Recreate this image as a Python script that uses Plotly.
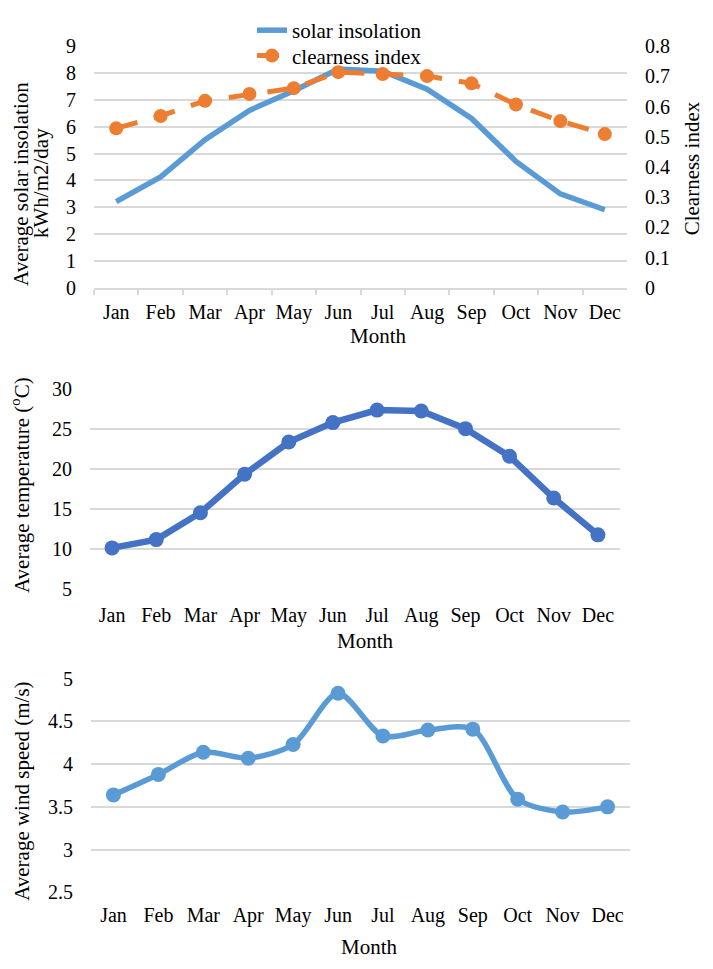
import plotly.graph_objects as go

months = ["Jan", "Feb", "Mar", "Apr", "May", "Jun", "Jul", "Aug", "Sep", "Oct", "Nov", "Dec"]
solar_insolation = [3.21, 4.13, 5.52, 6.61, 7.34, 8.15, 8.07, 7.40, 6.31, 4.71, 3.50, 2.91]
clearness_index = [0.528, 0.569, 0.619, 0.642, 0.661, 0.714, 0.708, 0.701, 0.677, 0.607, 0.552, 0.509]
temperature = [10.16, 11.20, 14.55, 19.35, 23.37, 25.80, 27.36, 27.24, 25.04, 21.59, 16.38, 11.79]
wind_speed = [3.64, 3.88, 4.14, 4.07, 4.23, 4.83, 4.33, 4.40, 4.41, 3.59, 3.44, 3.50]

W, H = 713, 969
FONT = "Liberation Serif"
GRID = "#d9d9d9"


def px(x):
    return x / W


def py(y):
    return 1 - y / H


tickfont = dict(family=FONT, size=20, color="#000000")

fig = go.Figure()
fig.add_trace(go.Scatter(x=months, y=solar_insolation, xaxis="x", yaxis="y", mode="lines",
                         name="solar insolation", legend="legend",
                         line=dict(color="#5B9BD5", width=5.5)))
fig.add_trace(go.Scatter(x=months, y=clearness_index, xaxis="x", yaxis="y2", mode="lines+markers",
                         name="clearness index", legend="legend2",
                         line=dict(color="#ED7D31", width=5, dash="22px,17px"),
                         marker=dict(size=14, color="#ED7D31")))
fig.add_trace(go.Scatter(x=months, y=temperature, xaxis="x2", yaxis="y3", mode="lines+markers",
                         showlegend=False,
                         line=dict(color="#4472C4", width=6.5),
                         marker=dict(size=15, color="#4472C4")))
fig.add_trace(go.Scatter(x=months, y=wind_speed, xaxis="x3", yaxis="y4", mode="lines+markers",
                         showlegend=False,
                         line=dict(color="#5B9BD5", width=5.5, shape="spline", smoothing=0.8),
                         marker=dict(size=15, color="#5B9BD5")))

common_x = dict(type="category", range=[-0.5, 11.5], showgrid=False, zeroline=False,
                tickangle=0, tickfont=tickfont, fixedrange=True)
common_y = dict(showgrid=True, gridcolor=GRID, gridwidth=1.5, zeroline=False,
                tickfont=tickfont, ticks="", fixedrange=True)

legend_common = dict(xanchor="left", yanchor="middle", bgcolor="rgba(0,0,0,0)",
                     font=dict(family=FONT, size=21, color="#000000"))

fig.update_layout(
    width=W, height=H,
    margin=dict(l=0, r=0, t=0, b=0),
    paper_bgcolor="white", plot_bgcolor="white",
    font=dict(family=FONT, color="#000000"),
    xaxis=dict(domain=[px(94), px(627)], anchor="y", showline=True, linecolor=GRID, linewidth=1.5,
               ticks="outside", tickson="boundaries", ticklen=5, tickcolor=GRID, tickwidth=1.5,
               ticklabelstandoff=5, **common_x),
    yaxis=dict(domain=[py(283.3), py(36)], anchor="x", range=[0, 9], dtick=1,
               ticklabelstandoff=17, **common_y),
    yaxis2=dict(overlaying="y", side="right", anchor="x", range=[0, 0.8], dtick=0.1,
                showgrid=False, zeroline=False, ticks="", tickfont=tickfont,
                ticklabelstandoff=17, fixedrange=True),
    xaxis2=dict(domain=[px(90), px(620)], anchor="y3", showline=False, ticks="",
                ticklabelstandoff=12, **common_x),
    yaxis3=dict(domain=[py(591.7), py(386.7)], anchor="x2", range=[5, 30], dtick=5,
                ticklabelstandoff=17, **common_y),
    xaxis3=dict(domain=[px(91), px(630)], anchor="y4", showline=False, ticks="",
                ticklabelstandoff=9, **common_x),
    yaxis4=dict(domain=[py(901.7), py(683.3)], anchor="x3", range=[2.5, 5], dtick=0.5,
                ticklabelstandoff=17, **common_y),
    legend=dict(x=px(252), y=py(20), **legend_common),
    legend2=dict(x=px(252), y=py(46), **legend_common),
)

titlefont = dict(family=FONT, size=21, color="#000000")
annotations = [
    dict(text="Average solar insolation", x=px(21), y=py(177), textangle=-90),
    dict(text="kWh/m2/day", x=px(41), y=py(176), textangle=-90),
    dict(text="Clearness index", x=px(692), y=py(161), textangle=-90),
    dict(text="Month", x=px(378), y=py(333), textangle=0),
    dict(text="Average temperature (<sup>o</sup>C)", x=px(21), y=py(485), textangle=-90),
    dict(text="Month", x=px(365), y=py(645), textangle=0),
    dict(text="Average wind speed (m/s)", x=px(22), y=py(799), textangle=-90),
    dict(text="Month", x=px(369), y=py(958), textangle=0),
]
fig.update_layout(annotations=[dict(xref="paper", yref="paper", showarrow=False,
                                    xanchor="center", yanchor="middle", font=titlefont, **a)
                               for a in annotations])

fig.write_html("out.html",
               post_script="document.body.style.margin='0px';document.body.style.overflow='hidden';")
